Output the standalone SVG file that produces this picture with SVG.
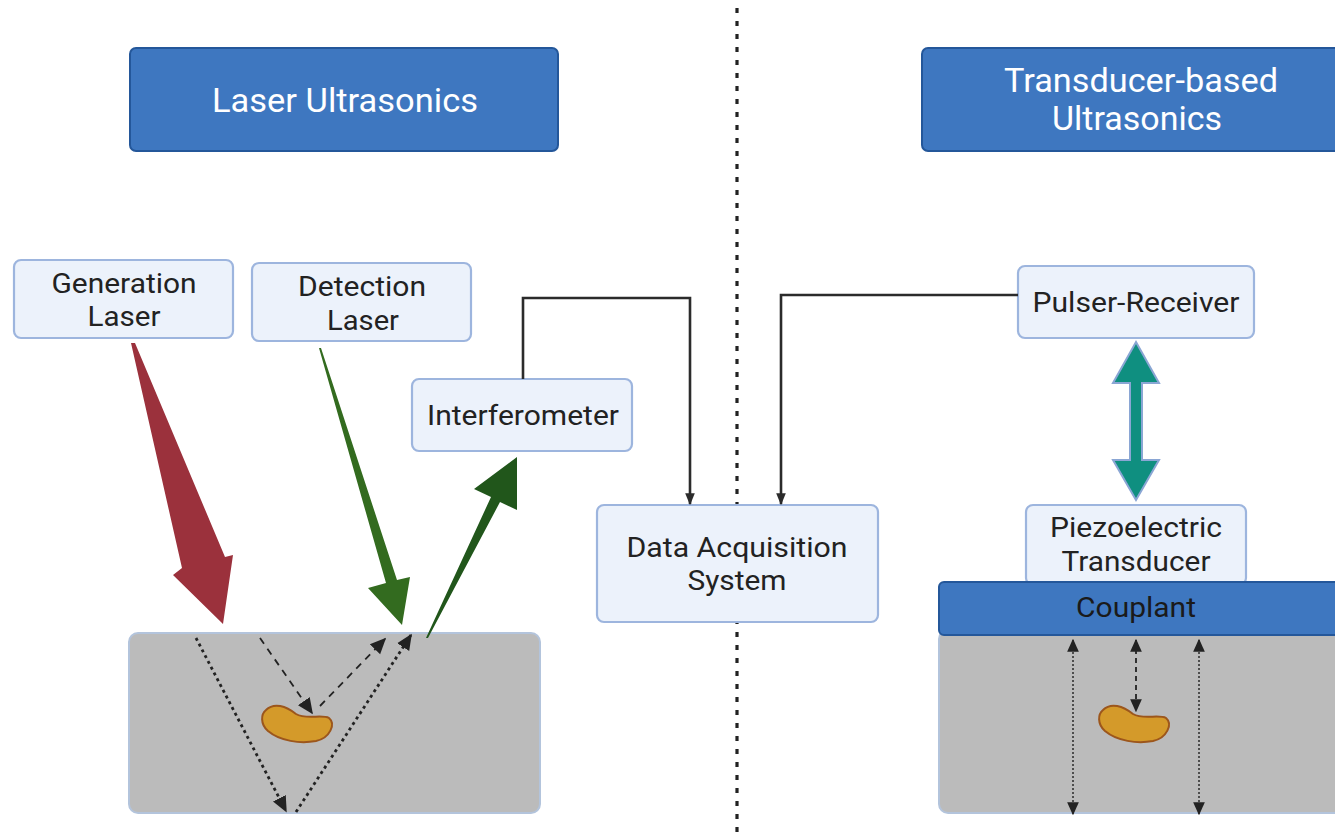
<svg xmlns="http://www.w3.org/2000/svg" width="1335" height="839" viewBox="0 0 1335 839">
<defs>
<style>
.hdr{fill:#3e77c0;stroke:#24579a;stroke-width:2}
.hdrt{font-family:Roboto,"Liberation Sans",sans-serif;font-size:33px;fill:#ffffff;text-anchor:middle}
.node{fill:#ecf2fb;stroke:#9db5de;stroke-width:2.2}
.nt{font-family:Roboto,"Liberation Sans",sans-serif;font-size:27px;fill:#222222;text-anchor:middle}
.spec{fill:#bbbbbb;stroke:#b3c4dc;stroke-width:2}
.flaw{fill:#d49a2a;stroke:#9c561c;stroke-width:2}
.conn{fill:none;stroke:#2b2b2b;stroke-width:2.6}
.dot{fill:none;stroke:#222;stroke-width:2.8;stroke-dasharray:3 3.5}
.dash{fill:none;stroke:#222;stroke-width:1.8;stroke-dasharray:7 6}
.vdot{fill:none;stroke:#333;stroke-width:1.6;stroke-dasharray:2 2}
</style>
<marker id="ahc" viewBox="0 0 10 10" refX="9" refY="5" markerWidth="12" markerHeight="12" orient="auto" markerUnits="userSpaceOnUse">
<path d="M0,1 L10,5 L0,9 z" fill="#2b2b2b"/>
</marker>
<marker id="ahs" viewBox="0 0 10 10" refX="9" refY="5" markerWidth="16" markerHeight="16" orient="auto" markerUnits="userSpaceOnUse">
<path d="M0,0.5 L10,5 L0,9.5 z" fill="#222"/>
</marker>
<marker id="ahv" viewBox="0 0 10 10" refX="9" refY="5" markerWidth="13" markerHeight="13" orient="auto-start-reverse" markerUnits="userSpaceOnUse">
<path d="M0,0.5 L10,5 L0,9.5 z" fill="#222"/>
</marker>
</defs>
<rect width="1335" height="839" fill="#ffffff"/>

<g id="divider">
<line x1="737" y1="8" x2="737" y2="839" stroke="#222" stroke-width="3.2" stroke-dasharray="5 8"/>
</g>

<g id="header-laser">
<rect class="hdr" x="130" y="48" width="428" height="103" rx="6"/>
<text class="hdrt" x="345" y="112" textLength="266" lengthAdjust="spacingAndGlyphs">Laser Ultrasonics</text>
</g>
<g id="header-transducer">
<rect class="hdr" x="922" y="48" width="430" height="103" rx="6"/>
<text class="hdrt" x="1141" y="92" textLength="274" lengthAdjust="spacingAndGlyphs">Transducer-based</text>
<text class="hdrt" x="1137" y="130" textLength="170" lengthAdjust="spacingAndGlyphs">Ultrasonics</text>
</g>

<g id="specimen-left">
<rect class="spec" x="129" y="633" width="411" height="180" rx="9"/>
<path class="flaw" d="M266,710 C274,702 286,706 296,714 C306,720 322,714 329,718 C336,724 330,738 316,741 C300,744 280,741 268,731 C260,724 261,714 266,710 Z"/>
</g>
<g id="specimen-right">
<rect class="spec" x="939" y="630" width="410" height="183" rx="9"/>
<path class="flaw" d="M1103,710 C1111,702 1123,706 1133,714 C1143,720 1159,714 1166,718 C1173,724 1167,738 1153,741 C1137,744 1117,741 1105,731 C1097,724 1098,714 1103,710 Z"/>
</g>

<g id="gen-laser">
<rect class="node" x="14" y="260" width="219" height="78" rx="7"/>
<text class="nt" x="124" y="293" textLength="145" lengthAdjust="spacingAndGlyphs">Generation</text>
<text class="nt" x="124" y="326" textLength="73" lengthAdjust="spacingAndGlyphs">Laser</text>
</g>
<g id="det-laser">
<rect class="node" x="252" y="263" width="219" height="78" rx="7"/>
<text class="nt" x="362" y="296" textLength="128" lengthAdjust="spacingAndGlyphs">Detection</text>
<text class="nt" x="363" y="330" textLength="72" lengthAdjust="spacingAndGlyphs">Laser</text>
</g>
<g id="interferometer">
<rect class="node" x="412" y="379" width="220" height="72" rx="7"/>
<text class="nt" x="523" y="425" textLength="192" lengthAdjust="spacingAndGlyphs">Interferometer</text>
</g>
<g id="daq">
<rect class="node" x="597" y="505" width="281" height="117" rx="7"/>
<text class="nt" x="737" y="557" textLength="221" lengthAdjust="spacingAndGlyphs">Data Acquisition</text>
<text class="nt" x="737" y="590" textLength="99" lengthAdjust="spacingAndGlyphs">System</text>
</g>
<g id="pulser-receiver">
<rect class="node" x="1018" y="266" width="236" height="72" rx="7"/>
<text class="nt" x="1136" y="312" textLength="207" lengthAdjust="spacingAndGlyphs">Pulser-Receiver</text>
</g>
<g id="piezo">
<rect class="node" x="1026" y="505" width="220" height="80" rx="7"/>
<text class="nt" x="1136" y="537" textLength="172" lengthAdjust="spacingAndGlyphs">Piezoelectric</text>
<text class="nt" x="1136" y="571" textLength="149" lengthAdjust="spacingAndGlyphs">Transducer</text>
</g>
<g id="couplant">
<rect class="hdr" x="939" y="582" width="410" height="53" rx="5"/>
<text class="nt" x="1136" y="617" textLength="120" lengthAdjust="spacingAndGlyphs" style="fill:#1a1a1a">Couplant</text>
</g>

<g id="connectors">
<polygon points="131,343 135,343 225,557 233,555 223,624 173,575 182,568" fill="#9b313c"/>
<polygon points="319,348 321,348 397,580 410,577 402,625 368,588 386,583" fill="#336b1f"/>
<polygon points="426,638 428,638 500,502 517,510 517,457 474,489 491,497" fill="#21561b"/>
<path class="conn" d="M523,379 V298 H690 V504" marker-end="url(#ahc)"/>
<path class="conn" d="M1018,295 H781 V504" marker-end="url(#ahc)"/>
<path d="M1136,342 L1159,383 L1142,383 L1142,460 L1159,460 L1136,500 L1113,460 L1130,460 L1130,383 L1113,383 Z" fill="#0f8f80" stroke="#8aa6d4" stroke-width="2"/>
<path class="dot" d="M196,638 L286,811" marker-end="url(#ahs)"/>
<path class="dot" d="M296,812 L411,635" marker-end="url(#ahs)"/>
<path class="dash" d="M260,638 L312,713" marker-end="url(#ahs)"/>
<path class="dash" d="M320,706 L385,639" marker-end="url(#ahs)"/>
<path class="vdot" d="M1073,640 V814" marker-start="url(#ahv)" marker-end="url(#ahv)"/>
<path class="vdot" d="M1199,640 V814" marker-start="url(#ahv)" marker-end="url(#ahv)"/>
<path class="dash" d="M1136,640 V711" style="stroke-dasharray:5 4" marker-start="url(#ahv)" marker-end="url(#ahv)"/>
</g>
</svg>
